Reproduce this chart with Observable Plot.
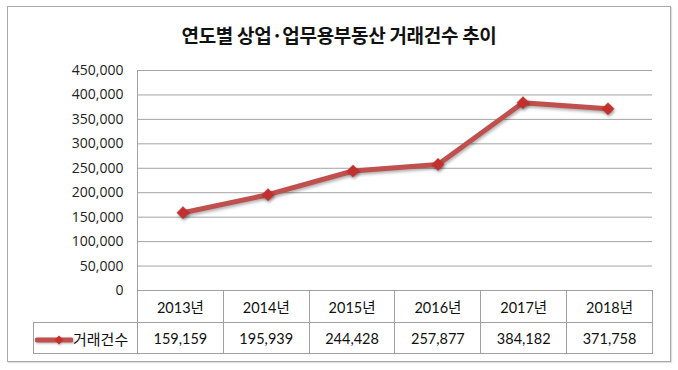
<!DOCTYPE html>
<html><head><meta charset="utf-8">
<script src="https://cdn.jsdelivr.net/npm/d3@7"></script>
<script src="https://cdn.jsdelivr.net/npm/@observablehq/plot@0.6"></script>
<style>
body{margin:0;background:#fff;}
#wrap{position:relative;width:678px;height:370px;overflow:hidden;font-family:"Noto Sans CJK KR",sans-serif;}
#frame{position:absolute;left:7px;top:6px;width:662px;height:354px;border:1px solid #a9a9a9;box-shadow:1px 1px 1px rgba(0,0,0,0.12);}
#title{position:absolute;left:0;top:22px;width:678px;text-align:center;font-size:19px;font-weight:bold;color:#111;line-height:26px;letter-spacing:-0.3px;}
#plot{position:absolute;left:0;top:60px;}
#plot g[aria-label=line] path{filter:drop-shadow(1px 2px 1.5px rgba(0,0,0,0.3));}
#plot g[aria-label=dot] path{filter:drop-shadow(1px 2px 1.5px rgba(0,0,0,0.35));}
table{position:absolute;left:33px;top:290px;border-collapse:collapse;table-layout:fixed;width:620px;font-family:Lato,"Noto Sans CJK KR",sans-serif;font-size:14.5px;color:#111;}
td{border:1px solid #a0a0a0;text-align:center;padding:0;white-space:nowrap;}
tr.h td{height:31px;}
tr.d td{height:30px;}
td.blank{border-left:none;border-top:none;}
td.leg{text-align:left;font-family:"Noto Sans CJK KR",sans-serif;font-size:15px;}
</style></head>
<body>
<div id="wrap">
  <div id="frame"></div>
  <div id="title"></div>
  <div id="plot"></div>
  <table id="tbl"></table>
</div>
<script>
const title = "연도별 상업·업무용부동산 거래건수 추이";
const seriesName = "거래건수";
const years = ["2013년","2014년","2015년","2016년","2017년","2018년"];
const values = [159159, 195939, 244428, 257877, 384182, 371758];
const yTicks = [0,50000,100000,150000,200000,250000,300000,350000,400000,450000];

const data = years.map((y,i)=>({year:y, value:values[i]}));
const fmt = d3.format(",");

document.getElementById("title").textContent = title;

const chart = Plot.plot({
  width: 678,
  height: 231,
  marginLeft: 137,
  marginRight: 26,
  marginTop: 10,
  marginBottom: 1,
  style: {fontFamily: "'Open Sans', sans-serif", fontSize: "14px", color: "#222", background: "transparent", overflow: "visible"},
  x: {type: "band", domain: years, padding: 0, axis: null},
  y: {domain: [0, 450000]},
  marks: [
    Plot.gridY(yTicks, {stroke: "#a3a3a3", strokeOpacity: 1, strokeWidth: 1}),
    Plot.frame({anchor: "left", stroke: "#a3a3a3"}),
    Plot.axisY(yTicks, {tickFormat: fmt, tickSize: 0, tickPadding: 14, label: null, fill: "#222"}),
    Plot.line(data, {x: "year", y: "value", stroke: "#C0504D", strokeWidth: 5, strokeLinejoin: "round"}),
    Plot.dot(data, {x: "year", y: "value", symbol: "diamond2", r: 5.5, fill: "#C4302E", stroke: "#B8302C", strokeWidth: 0.5})
  ]
});
document.getElementById("plot").appendChild(chart);

// data table (Excel-style) below the plot
const tbl = document.getElementById("tbl");
const colg = document.createElement("colgroup");
colg.innerHTML = `<col style="width:104px">` + years.map(()=>`<col>`).join("");
tbl.appendChild(colg);
const trh = document.createElement("tr"); trh.className = "h";
trh.innerHTML = `<td class="blank"></td>` + years.map(y=>`<td>${y}</td>`).join("");
tbl.appendChild(trh);
const trd = document.createElement("tr"); trd.className = "d";
const swatch = `<svg width="38" height="14" style="vertical-align:-2px;margin-left:1px;filter:drop-shadow(1px 1px 1px rgba(0,0,0,0.3))"><line x1="2" y1="7" x2="36" y2="7" stroke="#C0504D" stroke-width="5" stroke-linecap="round"/><path d="M24 2.5 L28.5 7 L24 11.5 L19.5 7 Z" fill="#C4302E"/></svg>`;
trd.innerHTML = `<td class="leg">${swatch}${seriesName}</td>` + values.map(v=>`<td>${fmt(v)}</td>`).join("");
tbl.appendChild(trd);
</script>
</body></html>
